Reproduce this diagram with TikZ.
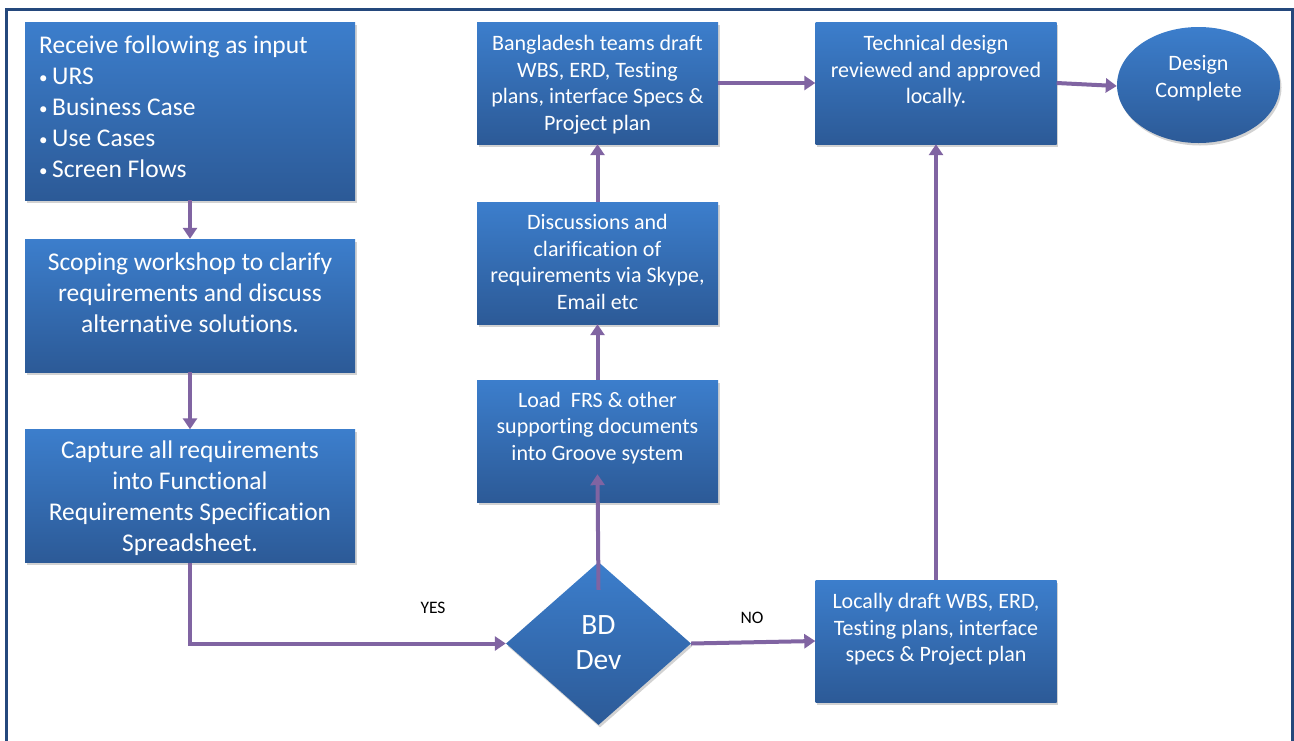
\documentclass[tikz,border=0pt]{standalone}
\usepackage{fontspec}
\setmainfont{Carlito}[Ligatures=NoCommon]
\usetikzlibrary{shapes.geometric,arrows.meta,shadows}

\definecolor{frameblue}{HTML}{24487C}
\definecolor{boxtop}{HTML}{3C7ECC}
\definecolor{boxbot}{HTML}{2C5A97}
\definecolor{flowpurple}{HTML}{8064A2}

\newcommand{\itembullet}{{\fontsize{17}{17}\selectfont\raisebox{1.5pt}{•}}\hspace{4.5pt}}

\tikzset{
  shade/.style={top color=boxtop, bottom color=boxbot, draw=none,
    drop shadow={opacity=0.35, shadow xshift=1.5pt, shadow yshift=-2.5pt}},
  widebox/.style={shade, rectangle, minimum width=330pt, inner sep=0pt},
  midbox/.style={shade, rectangle, minimum width=241pt, minimum height=122pt, inner sep=0pt},
  bigtxt/.style={text=white, align=center, font=\fontsize{25.5}{31}\selectfont, inner sep=0pt},
  smalltxt/.style={text=white, align=center, font=\fontsize{22}{26.5}\selectfont, inner sep=0pt},
  flow/.style={draw=flowpurple, line width=4pt, -{Triangle[width=14pt,length=11pt]}},
  answer/.style={text=black, font=\fontsize{17.5}{19}\selectfont, inner sep=0pt}
}

\begin{document}
\begin{tikzpicture}[x=1pt,y=-1pt]
\useasboundingbox (0,0) rectangle (1294,740);
\fill[white] (0,0) rectangle (1294,740);

% outer frame (runs off the bottom edge)
\draw[frameblue, line width=3pt] (6.5,780) -- (6.5,9) -- (1292,9) -- (1292,780);

% left column
\node[widebox, minimum height=178pt] (inputs) at (190,111) {};
\node[text=white, align=left, anchor=west, font=\fontsize{25.5}{31}\selectfont, inner sep=0pt]
  (inputstxt) at (39,107) {Receive following as input\\
  \itembullet URS\\ \itembullet Business Case\\ \itembullet Use Cases\\ \itembullet Screen Flows};

\node[widebox, minimum height=133pt] (scoping) at (190,305.5) {};
\node[bigtxt] (scopingtxt) at (190,293) {Scoping workshop to clarify\\requirements and discuss\\alternative solutions.};

\node[widebox, minimum height=133pt] (capture) at (190,496) {};
\node[bigtxt] (capturetxt) at (190,498) {Capture all requirements\\into Functional\\Requirements Specification\\Spreadsheet.};

% decision
\node[shade, diamond, aspect=1.135, minimum width=185pt, minimum height=163pt, inner sep=0pt]
  (bddev) at (598.5,643.5) {};
\node[text=white, align=center, font=\fontsize{29.5}{35}\selectfont, inner sep=0pt]
  (bddevtxt) at (598.5,643) {BD\\Dev};

% middle column
\node[midbox] (load) at (597.5,441) {};
\node[smalltxt] (loadtxt) at (597.5,428) {Load\ \ FRS \& other\\supporting documents\\into Groove system};

\node[midbox] (discuss) at (597.5,263) {};
\node[smalltxt] (discusstxt) at (597.5,262) {Discussions and\\clarification of\\requirements via Skype,\\Email etc};

\node[midbox] (bangla) at (597.5,83) {};
\node[smalltxt] (banglatxt) at (597.5,84.5) {Bangladesh teams draft\\WBS, ERD, Testing\\plans, interface Specs \&\\Project plan};

% right column
\node[midbox] (techdesign) at (936,83) {};
\node[smalltxt] (techdesigntxt) at (936,71.5) {Technical design\\reviewed and approved\\locally.};

\node[midbox] (locally) at (936,641) {};
\node[smalltxt] (locallytxt) at (936,629.5) {Locally draft WBS, ERD,\\Testing plans, interface\\specs \& Project plan};

\node[shade, ellipse, minimum width=163pt, minimum height=116pt, inner sep=0pt] (done) at (1198.5,85) {};
\node[smalltxt] (donetxt) at (1198.5,78) {Design\\Complete};

% connectors
\draw[flow] (inputs.south) -- (scoping.north);
\draw[flow] (scoping.south) -- (capture.north);
\draw[flow] (capture.south) |- (bddev.west);
\node[answer] (yes) at (433,608) {YES};

\coordinate (fromdiamond) at ([yshift=-28pt]bddev.north);
\coordinate (intoload) at ([yshift=28pt]load.south);
\draw[flow] (fromdiamond) -- (intoload);
\draw[flow] (load.north) -- (discuss.south);
\draw[flow] (discuss.north) -- (bangla.south);
\draw[flow] (bangla.east) -- (techdesign.west);
\draw[flow] (techdesign.east) -- ([yshift=-1pt]done.west);

\draw[flow] (bddev.east) -- (locally.west);
\node[answer] (no) at (752,618) {NO};
\draw[flow] (locally.north) -- (techdesign.south);
\end{tikzpicture}
\end{document}
